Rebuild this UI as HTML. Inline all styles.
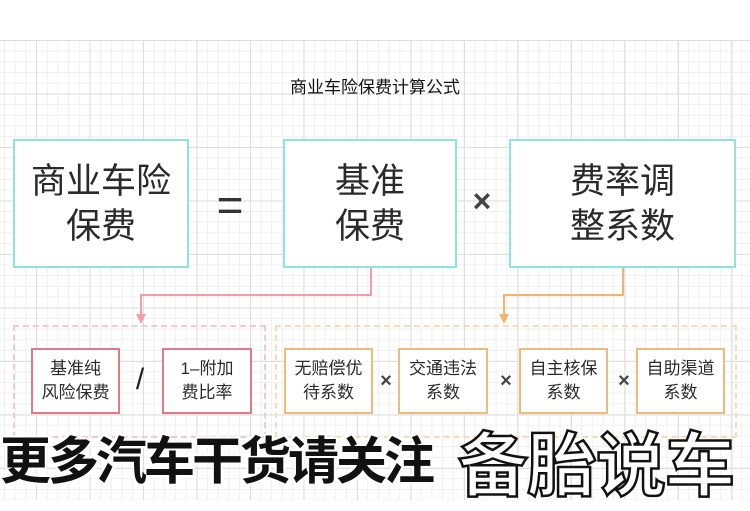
<!DOCTYPE html>
<html><head><meta charset="utf-8"><style>
body{margin:0;width:750px;height:500px;overflow:hidden;position:relative;background:#fff;font-family:"Liberation Sans","Noto Sans CJK SC",sans-serif;color:#333}
.grid{position:absolute;left:0;top:40px;width:750px;height:460px;
background-image:linear-gradient(#dedede 1px,transparent 1px),linear-gradient(90deg,#dedede 1px,transparent 1px),linear-gradient(#efefef 1px,transparent 1px),linear-gradient(90deg,#efefef 1px,transparent 1px);
background-size:53.5px 53.5px,53.5px 53.5px,10.7px 10.7px,10.7px 10.7px;background-position:36px 0,36px 0,36px 0,36px 0}
.a{position:absolute;box-sizing:border-box;display:flex;align-items:center;justify-content:center;text-align:center}
.big{border:2px solid #8fe3e3;background:#fff;font-size:35px;line-height:45px;color:#2a2a2a}
.dp{border:2px dashed #f5c9c9}
.do{border:2px dashed #f7dcb8}
.sp{border:2px solid #e07a86;background:#fff;font-size:17px;line-height:24px;color:#2a2a2a}
.so{border:2px solid #efbb7c;background:#fff;font-size:17px;line-height:24px;color:#2a2a2a}
.op{font-size:20px;font-weight:bold;color:#444}
.t1{position:absolute;left:0;top:420px;font-size:51px;font-weight:bold;color:#111;text-shadow:-2px -2px 0 #fff,2px -2px 0 #fff,-2px 2px 0 #fff,2px 2px 0 #fff;letter-spacing:-3px;white-space:nowrap}
.t2{position:absolute;left:458px;top:410px;font-size:70px;font-weight:bold;color:#fff;-webkit-text-stroke:2.5px #111;white-space:nowrap;letter-spacing:-1px}
</style></head><body>
<div class="grid"></div>
<div class="a" style="left:0;top:72px;width:750px;height:26px;font-size:17px;color:#111">商业车险保费计算公式</div>
<div class="a big" style="left:13px;top:139px;width:176px;height:129px">商业车险<br>保费</div>
<div class="a" style="left:200px;top:180px;width:60px;height:50px;font-size:46px;color:#333">=</div>
<div class="a big" style="left:283px;top:139px;width:174px;height:129px">基准<br>保费</div>
<div class="a" style="left:466px;top:185px;width:32px;height:32px;font-size:32px;font-weight:bold;color:#444">×</div>
<div class="a big" style="left:509px;top:139px;width:227px;height:129px">费率调<br>整系数</div>
<svg style="position:absolute;left:0;top:0" width="750" height="500">
<polyline points="371,268 371,295 141,295 141,318" fill="none" stroke="#eea0a6" stroke-width="2"/>
<polygon points="136,314 146,314 141,324" fill="#eea0a6"/>
<polyline points="623,268 623,295 504,295 504,318" fill="none" stroke="#f0b574" stroke-width="2"/>
<polygon points="499,314 509,314 504,324" fill="#f0b574"/>
</svg>
<div class="a dp" style="left:13px;top:325px;width:253px;height:113px"></div>
<div class="a do" style="left:275px;top:325px;width:462px;height:113px"></div>
<div class="a sp" style="left:31px;top:348px;width:89px;height:66px">基准纯<br>风险保费</div>
<div class="a" style="left:128px;top:362px;width:24px;height:36px;font-size:30px;color:#222">/</div>
<div class="a sp" style="left:162px;top:348px;width:90px;height:66px">1–附加<br>费比率</div>
<div class="a so" style="left:284px;top:348px;width:89px;height:66px">无赔偿优<br>待系数</div>
<div class="a op" style="left:376px;top:368px;width:20px;height:26px">×</div>
<div class="a so" style="left:398px;top:348px;width:90px;height:66px">交通违法<br>系数</div>
<div class="a op" style="left:496px;top:368px;width:20px;height:26px">×</div>
<div class="a so" style="left:519px;top:348px;width:89px;height:66px">自主核保<br>系数</div>
<div class="a op" style="left:614px;top:368px;width:20px;height:26px">×</div>
<div class="a so" style="left:636px;top:348px;width:89px;height:66px">自助渠道<br>系数</div>
<div class="t1">更多汽车干货请关注</div>
<div class="t2">备胎说车</div>
</body></html>
